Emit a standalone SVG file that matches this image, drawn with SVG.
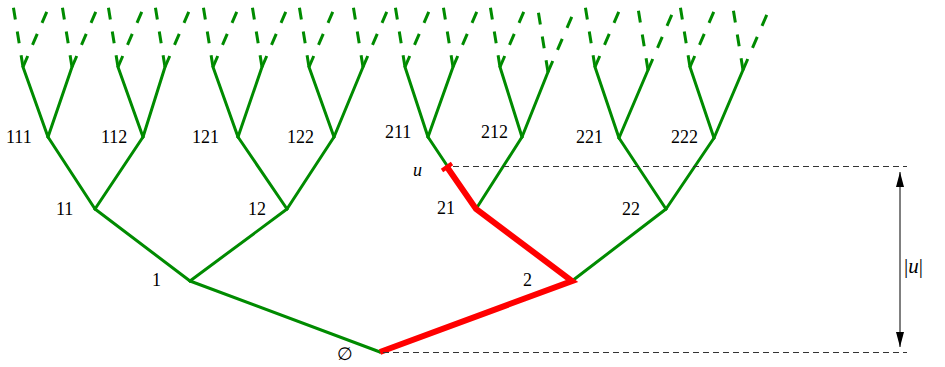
<svg xmlns="http://www.w3.org/2000/svg" width="945" height="367" viewBox="0 0 945 367">
<style>
.e{stroke:#008b00;stroke-width:3;fill:none;stroke-linecap:round}
.d{stroke:#008b00;stroke-width:3;fill:none;stroke-dasharray:12 12}
.lbl{font-family:"Liberation Serif","DejaVu Serif",serif;font-size:18px;fill:#000}
.it{font-style:italic}
.gd{stroke:#333;stroke-width:1;stroke-dasharray:6 4;fill:none}
</style>
<defs>
<marker id="ah" viewBox="0 0 15 8" refX="15" refY="4" markerWidth="15" markerHeight="8" markerUnits="userSpaceOnUse" orient="auto-start-reverse"><path d="M0,0 L15,4 L0,8 Z" fill="#000"/></marker>
</defs>
<g id="connectors">
<g id="dashed-branches">
<line class="d" x1="23" y1="67" x2="13" y2="5"/><line class="d" x1="23" y1="67" x2="48" y2="9"/>
<line class="d" x1="72" y1="67" x2="62" y2="5"/><line class="d" x1="72" y1="67" x2="97" y2="9"/>
<line class="d" x1="118" y1="67" x2="108" y2="5"/><line class="d" x1="118" y1="67" x2="143" y2="9"/>
<line class="d" x1="165" y1="67" x2="155" y2="5"/><line class="d" x1="165" y1="67" x2="190" y2="9"/>
<line class="d" x1="213" y1="67" x2="203" y2="5"/><line class="d" x1="213" y1="67" x2="238" y2="9"/>
<line class="d" x1="262" y1="67" x2="252" y2="5"/><line class="d" x1="262" y1="67" x2="287" y2="9"/>
<line class="d" x1="309" y1="67" x2="299" y2="5"/><line class="d" x1="309" y1="67" x2="334" y2="9"/>
<line class="d" x1="363" y1="67" x2="353" y2="5"/><line class="d" x1="363" y1="67" x2="388" y2="9"/>
<line class="d" x1="405" y1="67" x2="395" y2="5"/><line class="d" x1="405" y1="67" x2="430" y2="9"/>
<line class="d" x1="453" y1="67" x2="443" y2="5"/><line class="d" x1="453" y1="67" x2="478" y2="9"/>
<line class="d" x1="500" y1="67" x2="490" y2="5"/><line class="d" x1="500" y1="67" x2="525" y2="9"/>
<line class="d" x1="548" y1="72" x2="538" y2="10"/><line class="d" x1="548" y1="72" x2="573" y2="14"/>
<line class="d" x1="595" y1="67" x2="585" y2="5"/><line class="d" x1="595" y1="67" x2="620" y2="9"/>
<line class="d" x1="648" y1="70" x2="638" y2="8"/><line class="d" x1="648" y1="70" x2="673" y2="12"/>
<line class="d" x1="690" y1="67" x2="680" y2="5"/><line class="d" x1="690" y1="67" x2="715" y2="9"/>
<line class="d" x1="743" y1="70" x2="733" y2="8"/><line class="d" x1="743" y1="70" x2="768" y2="12"/>
</g>
<g id="solid-edges">
<line class="e" x1="380" y1="352" x2="190" y2="281"/><line class="e" x1="380" y1="352" x2="572" y2="281"/>
<line class="e" x1="190" y1="281" x2="95" y2="209"/><line class="e" x1="190" y1="281" x2="287" y2="209"/>
<line class="e" x1="572" y1="281" x2="476" y2="209"/><line class="e" x1="572" y1="281" x2="666" y2="209"/>
<line class="e" x1="95" y1="209" x2="48" y2="137"/><line class="e" x1="95" y1="209" x2="143" y2="137"/>
<line class="e" x1="287" y1="209" x2="238" y2="137"/><line class="e" x1="287" y1="209" x2="334" y2="137"/>
<line class="e" x1="476" y1="209" x2="428" y2="137"/><line class="e" x1="476" y1="209" x2="522" y2="137"/>
<line class="e" x1="666" y1="209" x2="619" y2="138"/><line class="e" x1="666" y1="209" x2="714" y2="138"/>
<line class="e" x1="48" y1="137" x2="23" y2="67"/><line class="e" x1="48" y1="137" x2="72" y2="67"/>
<line class="e" x1="143" y1="137" x2="118" y2="67"/><line class="e" x1="143" y1="137" x2="165" y2="67"/>
<line class="e" x1="238" y1="137" x2="213" y2="67"/><line class="e" x1="238" y1="137" x2="262" y2="67"/>
<line class="e" x1="334" y1="137" x2="309" y2="67"/><line class="e" x1="334" y1="137" x2="363" y2="67"/>
<line class="e" x1="428" y1="137" x2="405" y2="67"/><line class="e" x1="428" y1="137" x2="453" y2="67"/>
<line class="e" x1="522" y1="137" x2="500" y2="67"/><line class="e" x1="522" y1="137" x2="548" y2="72"/>
<line class="e" x1="619" y1="138" x2="595" y2="67"/><line class="e" x1="619" y1="138" x2="648" y2="70"/>
<line class="e" x1="714" y1="138" x2="690" y2="67"/><line class="e" x1="714" y1="138" x2="743" y2="70"/>
</g>
<g id="path-to-u">
<polyline points="380,352 572,281 476,209 447,167" fill="none" stroke="#f00" stroke-width="6" stroke-linejoin="miter" stroke-miterlimit="10"/>
<line x1="442" y1="170.5" x2="452" y2="163.5" stroke="#f00" stroke-width="4"/>
</g>
<g id="height-measure">
<line class="gd" x1="453" y1="166.5" x2="907" y2="166.5"/>
<line class="gd" x1="383" y1="352.5" x2="907" y2="352.5"/>
<line x1="900" y1="172" x2="900" y2="347" stroke="#000" stroke-width="1" marker-start="url(#ah)" marker-end="url(#ah)"/>
</g>
</g>
<g id="node-root"><text class="lbl" x="337" y="360">∅</text></g>
<g id="node-1"><text class="lbl" x="152" y="286">1</text></g>
<g id="node-2"><text class="lbl" x="523" y="286">2</text></g>
<g id="node-11"><text class="lbl" x="56" y="215">11</text></g>
<g id="node-12"><text class="lbl" x="248" y="215">12</text></g>
<g id="node-21"><text class="lbl" x="437" y="214">21</text></g>
<g id="node-22"><text class="lbl" x="622" y="215">22</text></g>
<g id="node-111"><text class="lbl" x="6" y="143">111</text></g>
<g id="node-112"><text class="lbl" x="101" y="143">112</text></g>
<g id="node-121"><text class="lbl" x="192" y="143">121</text></g>
<g id="node-122"><text class="lbl" x="287" y="143">122</text></g>
<g id="node-211"><text class="lbl" x="385" y="138">211</text></g>
<g id="node-212"><text class="lbl" x="481" y="138">212</text></g>
<g id="node-221"><text class="lbl" x="576" y="143">221</text></g>
<g id="node-222"><text class="lbl" x="671" y="143">222</text></g>
<g id="node-u"><text class="lbl it" x="413" y="176">u</text></g>
<g id="label-height"><text class="lbl" x="904" y="273" style="font-size:21px">|<tspan class="it">u</tspan>|</text></g>
</svg>
